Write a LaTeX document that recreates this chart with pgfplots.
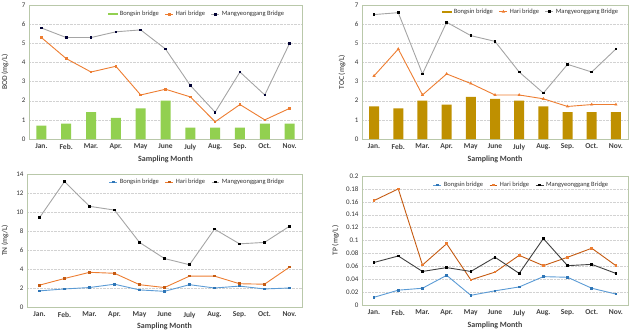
\documentclass[border=0pt]{standalone}
\usepackage{pgfplots}
\pgfplotsset{compat=1.18}
\usepackage{fontspec}
\setmainfont{Carlito}
\definecolor{framec}{RGB}{185,200,170}
\definecolor{bgreen}{RGB}{146,208,80}
\definecolor{bgold}{RGB}{191,144,0}
\definecolor{horange}{RGB}{237,125,49}
\definecolor{hdark}{RGB}{197,90,17}
\definecolor{mgray}{RGB}{165,165,165}
\definecolor{mdark}{RGB}{64,64,64}
\definecolor{bblue}{RGB}{91,155,213}
\definecolor{bbluedk}{RGB}{46,117,182}
\pgfplotsset{
  panel/.style={
    scale only axis, anchor=south west,
    xmin=-0.5, xmax=10.5, xtick={0,...,10},
    xticklabels={Jan.,Feb.,Mar.,Apr.,May,June,July,Aug.,Sep.,Oct.,Nov.},
    axis line style={draw=framec, line width=0.8pt},
    tick style={draw=none},
    ymajorgrids, grid style={densely dotted, gray!35, line width=0.4pt},
    /pgf/number format/assume math mode=true,
    yticklabel style={font=\fontsize{7}{8}\selectfont, text=black!80, /pgf/number format/fixed},
    xticklabel style={font=\fontsize{7.5}{8}\selectfont\bfseries, text=black!75, yshift=-1.5pt},
    xlabel={Sampling Month},
    xlabel style={font=\fontsize{8}{9}\selectfont\bfseries, text=black!75, anchor=center},
    ylabel style={font=\fontsize{7.5}{8}\selectfont, text=black!85, anchor=center, rotate=0},
    legend style={draw=none, fill=none, font=\fontsize{6.5}{7}\selectfont, text=black!80,
      anchor=center, legend columns=3,
      /tikz/every even column/.append style={column sep=4pt}},
    legend cell align=left,
    every axis plot/.append style={line width=0.9pt},
    legend image code/.code={\draw[mark repeat=2,mark phase=2,#1] plot coordinates {(0cm,0cm) (0.14cm,0cm) (0.28cm,0cm)};},
  },
  barleg/.style={legend image code/.code={\fill[#1] (0pt,-1.1pt) rectangle (10pt,1.1pt);}},
}
\begin{document}
\begin{tikzpicture}[x=1pt,y=1pt]
\path[use as bounding box] (0,0) rectangle (631,333);
% BOD
\begin{axis}[panel, at={(29pt,194pt)}, width=273pt, height=134pt,
  ymin=0, ymax=7, ytick={0,...,7}, ylabel={BOD (mg/L)},
  ylabel style={at={(axis description cs:-0.088,0.5)}},
  xlabel style={at={(axis description cs:0.5,-0.15)}},
  legend style={at={(axis description cs:0.615,0.93)}}]
\addplot[ybar, bar width=10pt, fill=bgreen, draw=none, barleg] coordinates {
(0,0.7)(1,0.8)(2,1.4)(3,1.1)(4,1.6)(5,2.0)(6,0.6)(7,0.6)(8,0.6)(9,0.8)(10,0.8)};
\addlegendentry{Bongsin bridge}
\addplot[horange, mark=square*, mark size=0.8pt] coordinates {
(0,5.3)(1,4.2)(2,3.5)(3,3.8)(4,2.3)(5,2.6)(6,2.2)(7,0.9)(8,1.8)(9,1.0)(10,1.6)};
\addlegendentry{Hari bridge}
\addplot[mgray, mark=square*, mark size=0.8pt, mark options={fill=black!80!blue, draw=black!80!blue}] coordinates {
(0,5.8)(1,5.3)(2,5.3)(3,5.6)(4,5.7)(5,4.7)(6,2.8)(7,1.4)(8,3.5)(9,2.3)(10,5.0)};
\addlegendentry{Mangyeonggang Bridge}
\end{axis}
% TOC
\begin{axis}[panel, at={(362pt,194pt)}, width=266pt, height=134pt,
  ymin=0, ymax=7, ytick={0,...,7}, ylabel={TOC (mg/L)},
  ylabel style={at={(axis description cs:-0.075,0.5)}},
  xlabel style={at={(axis description cs:0.5,-0.15)}},
  legend style={at={(axis description cs:0.635,0.95)}}]
\addplot[ybar, bar width=10pt, fill=bgold, draw=none, barleg] coordinates {
(0,1.7)(1,1.6)(2,2.0)(3,1.8)(4,2.2)(5,2.1)(6,2.0)(7,1.7)(8,1.4)(9,1.4)(10,1.4)};
\addlegendentry{Bongsin bridge}
\addplot[horange, mark=triangle*, mark size=1pt] coordinates {
(0,3.3)(1,4.7)(2,2.3)(3,3.4)(4,2.9)(5,2.3)(6,2.3)(7,2.1)(8,1.7)(9,1.8)(10,1.8)};
\addlegendentry{Hari bridge}
\addplot[mgray, mark=square*, mark size=0.8pt, mark options={fill=black, draw=black}] coordinates {
(0,6.5)(1,6.6)(2,3.4)(3,6.1)(4,5.4)(5,5.1)(6,3.5)(7,2.4)(8,3.9)(9,3.5)(10,4.7)};
\addlegendentry{Mangyeonggang Bridge}
\end{axis}
% TN
\begin{axis}[panel, at={(27pt,26pt)}, width=275pt, height=133pt,
  ymin=0, ymax=14, ytick={0,2,...,14}, ylabel={TN (mg/L)},
  ylabel style={at={(axis description cs:-0.08,0.5)}},
  xlabel style={at={(axis description cs:0.5,-0.143)}},
  legend style={at={(axis description cs:0.62,0.94)}}]
\addplot[bblue, mark=square*, mark size=0.8pt, mark options={fill=bbluedk, draw=bbluedk}] coordinates {
(0,1.7)(1,1.9)(2,2.05)(3,2.4)(4,1.8)(5,1.65)(6,2.35)(7,2.0)(8,2.2)(9,1.9)(10,2.0)};
\addlegendentry{Bongsin bridge}
\addplot[horange, mark=square*, mark size=0.8pt, mark options={fill=hdark, draw=hdark}] coordinates {
(0,2.3)(1,3.0)(2,3.65)(3,3.55)(4,2.35)(5,2.05)(6,3.25)(7,3.25)(8,2.45)(9,2.4)(10,4.2)};
\addlegendentry{Hari bridge}
\addplot[mgray, mark=square*, mark size=0.8pt, mark options={fill=black, draw=black}] coordinates {
(0,9.4)(1,13.2)(2,10.6)(3,10.2)(4,6.8)(5,5.1)(6,4.45)(7,8.2)(8,6.65)(9,6.8)(10,8.5)};
\addlegendentry{Mangyeonggang Bridge}
\end{axis}
% TP
\begin{axis}[panel, at={(362pt,28pt)}, width=266pt, height=129pt,
  ymin=0, ymax=0.2, ytick={0,0.02,...,0.2}, ylabel={TP (mg/L)},
  yticklabel style={/pgf/number format/precision=2},
  ylabel style={at={(axis description cs:-0.1,0.5)}},
  xlabel style={at={(axis description cs:0.5,-0.155)}},
  legend style={at={(axis description cs:0.6,0.93)}}]
\addplot[bblue, mark=square*, mark size=0.8pt, mark options={fill=bbluedk, draw=bbluedk}] coordinates {
(0,0.012)(1,0.023)(2,0.026)(3,0.046)(4,0.015)(5,0.022)(6,0.028)(7,0.044)(8,0.043)(9,0.026)(10,0.017)};
\addlegendentry{Bongsin bridge}
\addplot[hdark, mark=square*, mark size=0.8pt, mark options={fill=horange, draw=horange}] coordinates {
(0,0.162)(1,0.180)(2,0.062)(3,0.095)(4,0.039)(5,0.051)(6,0.077)(7,0.061)(8,0.074)(9,0.088)(10,0.061)};
\addlegendentry{Hari bridge}
\addplot[mdark, mark=square*, mark size=0.8pt, mark options={fill=black, draw=black}] coordinates {
(0,0.066)(1,0.076)(2,0.052)(3,0.058)(4,0.052)(5,0.074)(6,0.049)(7,0.103)(8,0.061)(9,0.063)(10,0.049)};
\addlegendentry{Mangyeonggang Bridge}
\end{axis}
\end{tikzpicture}
\end{document}
